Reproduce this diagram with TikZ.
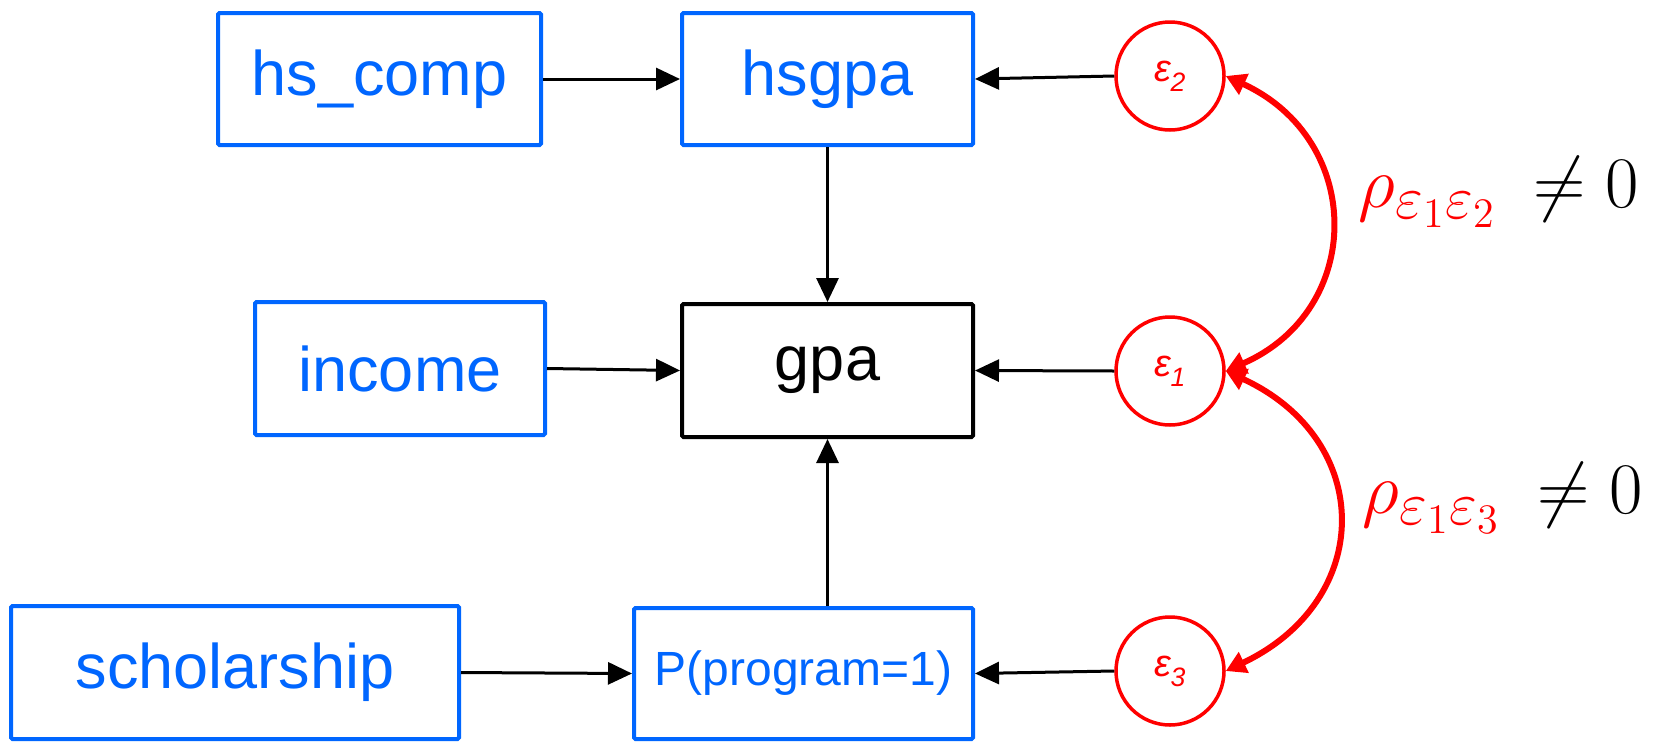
\documentclass[tikz,border=0pt]{standalone}
\usepackage{fontspec}
\setmainfont{Liberation Sans}
\usetikzlibrary{arrows.meta}
\DeclareMathSizes{20}{20}{17}{12}
\definecolor{boxblue}{RGB}{0,102,255}
\definecolor{errred}{RGB}{255,0,0}
\begin{document}
\begin{tikzpicture}[x=1pt,y=-1pt,
  varbox/.style={draw=boxblue, line width=4pt, text=boxblue, inner sep=0pt, rounded corners=1.5pt, font=\fontsize{63}{70}\selectfont},
  depbox/.style={varbox, draw=black, text=black},
  errcirc/.style={circle, draw=errred, line width=3.5pt, text=errred, minimum size=108pt, inner sep=0pt, font=\fontsize{38}{40}\selectfont\itshape},
  arr/.style={line width=3pt, -{Triangle[length=24pt,width=22pt]}},
  corr/.style={draw=errred, line width=6pt, {Triangle[length=20pt,width=22pt]}-{Triangle[length=20pt,width=22pt]}},
  rholab/.style={anchor=west, inner sep=0pt, scale=3.5, transform shape, font=\fontsize{20}{24}\selectfont}]
\useasboundingbox (0,0) rectangle (1662,750);
% boxes
\node[varbox, minimum width=323pt, minimum height=132pt] (hscomp) at (379.5,79) {hs\_comp};
\node[varbox, minimum width=291pt, minimum height=132pt] (hsgpa) at (827.5,79) {hsgpa};
\node[varbox, minimum width=290pt, minimum height=133pt] (income) at (400,368.5) {income};
\node[depbox, minimum width=291pt, minimum height=133pt] (gpa) at (827.5,370.5) {gpa};
\node[varbox, minimum width=448pt, minimum height=133pt] (schol) at (235,672.5) {scholarship};
\node[varbox, minimum width=339pt, minimum height=131pt, font=\fontsize{48}{54}\selectfont] (prog) at (803.5,673.5) {P(program=1)};
% error terms
\node[errcirc] (e2) at (1170,76) {ε\textsubscript{2}};
\node[errcirc] (e1) at (1170,371) {ε\textsubscript{1}};
\node[errcirc] (e3) at (1170,671) {ε\textsubscript{3}};
% paths
\draw[arr] (hscomp.east) -- (hsgpa.west);
\draw[arr] (e2.west) -- (hsgpa.east);
\draw[arr] (hsgpa.south) -- (gpa.north);
\draw[arr] (income.east) -- (gpa.west);
\draw[arr] (e1.west) -- (gpa.east);
\draw[arr] (gpa.south |- prog.north) -- (gpa.south);
\draw[arr] (schol.east) -- (prog.west);
\draw[arr] (e3.west) -- (prog.east);
% correlations
\draw[corr] (e2.east) .. controls (1365,140) and (1365,310) .. (e1.east);
\draw[corr] (e1.east) .. controls (1375,440) and (1375,600) .. (e3.east);
\node[rholab] (r12) at (1358,192) {$\color{errred}\rho_{\varepsilon_1\varepsilon_2}\mkern4mu\color{black}\neq 0$};
\node[rholab] (r13) at (1362,498) {$\color{errred}\rho_{\varepsilon_1\varepsilon_3}\mkern4mu\color{black}\neq 0$};
\end{tikzpicture}
\end{document}
